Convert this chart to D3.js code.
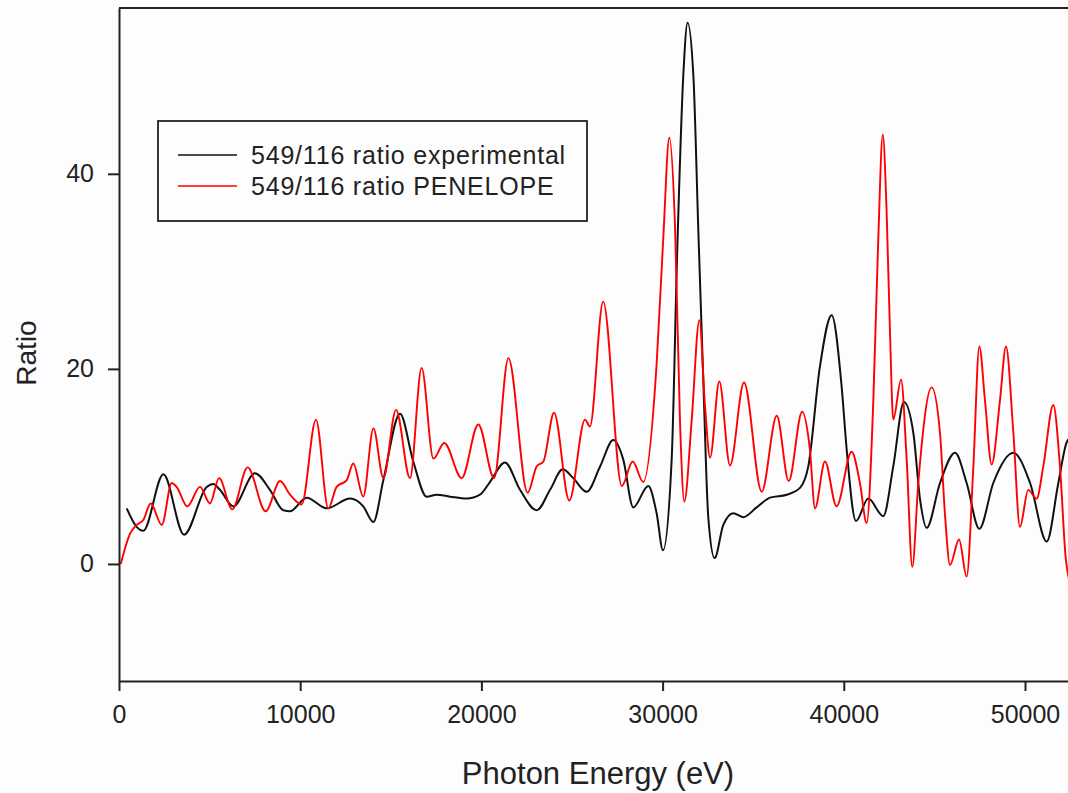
<!DOCTYPE html>
<html>
<head>
<meta charset="utf-8">
<script src="https://cdn.jsdelivr.net/npm/d3@7"></script>
<style>
  html, body { margin: 0; padding: 0; background: #fdfdfd; }
  svg { display: block; }
  text { font-family: "Liberation Sans", Arial, sans-serif; fill: #222; }
</style>
</head>
<body>
<svg id="chart" width="1068" height="793"></svg>
<script>
// Photon energy (eV) and 549/116 ratio, experimental measurement
const expEnergy = [425, 975, 1340, 2450, 3590, 4840, 5200, 5570, 6310, 7500, 8330, 9070, 9440,
  10360, 11460, 12750, 13480, 14040, 14590, 15510, 16240, 16980, 17530, 18270, 19190, 19920,
  20470, 21300, 22130, 23050, 23790, 24490, 25070, 25810, 26550, 27280, 27830, 28380, 29210,
  29670, 30020, 30500, 30810, 31140, 31380, 31700, 31970, 32250, 32520, 32870, 33350, 33900,
  34450, 35190, 35930, 36850, 37580, 38040, 38680, 39330, 39880, 40160, 40670, 41350, 42180,
  42730, 43320, 43840, 44210, 44570, 45310, 46140, 46780, 47480, 48250, 49360, 50280, 51200,
  51840, 52310, 52800];
const expRatio = [5.7, 3.8, 3.4, 9.2, 3.0, 7.9, 8.2, 7.6, 5.9, 9.3, 7.6, 5.5, 5.4,
  6.8, 5.7, 6.7, 5.9, 4.3, 8.6, 15.4, 10.5, 6.9, 7.1, 6.9, 6.7, 7.1,
  8.4, 10.4, 7.6, 5.5, 7.6, 9.7, 8.8, 7.4, 10.0, 12.7, 10.7, 5.8, 8.0,
  5.2, 1.4, 10.7, 32.3, 50.0, 55.5, 50.0, 34.3, 18.6, 4.8, 0.6, 4.0, 5.2,
  4.8, 5.8, 6.8, 7.1, 7.8, 10.0, 20.2, 25.5, 18.2, 11.7, 4.4, 6.7, 4.9,
  10.0, 16.6, 13.4, 6.6, 3.7, 8.3, 11.4, 8.3, 3.6, 8.3, 11.4, 8.3, 2.3,
  8.3, 12.5, 13.4];

// Photon energy (eV) and 549/116 ratio, PENELOPE simulation
const penEnergy = [100, 610, 975, 1340, 1750, 2360, 2910, 3180, 3770, 4470, 5020, 5520, 6250,
  7100, 8090, 8890, 9440, 10080, 10870, 11550, 12010, 12570, 12930, 13480, 14040, 14590,
  15290, 16060, 16700, 17350, 17950, 18910, 19830, 20700, 21490, 22550, 23050, 23420, 24010,
  24850, 25720, 25990, 26720, 27750, 28350, 28930, 29670, 30040, 30370, 30690, 30960, 31200,
  31600, 32030, 32340, 32620, 33130, 33720, 34490, 35470, 36300, 36960, 37700, 38130, 38410,
  38960, 39600, 40430, 40890, 41260, 41630, 41900, 42150, 42360, 42550, 42730, 43160, 43470,
  43780, 44110, 44850, 45310, 45590, 45860, 46360, 46780, 47150, 47480, 47790, 48160, 48620,
  48950, 49360, 49720, 50180, 50640, 51010, 51560, 51930, 52260, 52700];
const penRatio = [0.0, 3.1, 4.0, 4.5, 6.2, 4.0, 8.3, 7.9, 5.9, 7.9, 6.2, 8.8, 5.6,
  9.9, 5.4, 8.5, 7.1, 6.1, 14.8, 5.7, 7.9, 8.6, 10.3, 6.9, 13.9, 8.8,
  15.8, 8.8, 20.1, 10.8, 12.4, 8.8, 14.3, 8.8, 21.1, 7.3, 10.0, 10.5, 15.5,
  6.5, 14.8, 14.1, 26.9, 8.0, 10.5, 8.4, 20.5, 33.5, 43.7, 34.3, 14.6, 6.4,
  14.6, 25.0, 16.2, 10.9, 18.7, 10.1, 18.6, 7.4, 15.2, 8.5, 15.6, 11.7, 5.7,
  10.5, 5.9, 11.5, 8.3, 4.2, 16.8, 33.2, 44.0, 36.3, 23.7, 14.8, 18.9, 10.7,
  -0.3, 8.3, 18.1, 13.4, 4.9, -0.1, 2.5, -1.3, 10.0, 22.3, 16.8, 10.2, 16.8,
  22.3, 13.4, 3.8, 7.6, 6.7, 10.0, 16.3, 10.0, 0.4, -3.0];

const xTicks = [0, 10000, 20000, 30000, 40000, 50000];
const yTicks = [0, 20, 40];
const seriesNames = ["549/116 ratio experimental", "549/116 ratio PENELOPE"];
const seriesColors = ["#111111", "#ff0000"];

const svg = d3.select("#chart");

// Plot frame: left edge at 119px, one decade of 10000 eV spans ~181px
const x = d3.scaleLinear().domain([0, 55000]).range([119, 119 + 5.5 * 181.2]);
const y = d3.scaleLinear().domain([-12, 57]).range([681, 8]);

const axisColor = "#222";
const axisWidth = 2;

// Curves
const line = d3.line()
  .x(d => x(d[0]))
  .y(d => y(d[1]))
  .curve(d3.curveMonotoneX);

const expData = expEnergy.map((e, i) => [e, expRatio[i]]);
const penData = penEnergy.map((e, i) => [e, penRatio[i]]);

svg.append("defs").append("clipPath").attr("id", "plotClip")
  .append("rect").attr("x", 119).attr("y", 8).attr("width", 1000).attr("height", 673);

const plot = svg.append("g").attr("clip-path", "url(#plotClip)");
plot.append("path").datum(expData)
  .attr("d", line).attr("fill", "none")
  .attr("stroke", seriesColors[0]).attr("stroke-width", 2);
plot.append("path").datum(penData)
  .attr("d", line).attr("fill", "none")
  .attr("stroke", seriesColors[1]).attr("stroke-width", 1.9);

// Top border
svg.append("line")
  .attr("x1", 119).attr("x2", 1068).attr("y1", 8).attr("y2", 8)
  .attr("stroke", axisColor).attr("stroke-width", axisWidth);

// X axis
const xAxis = svg.append("g")
  .attr("transform", `translate(0,${y(-12)})`)
  .call(d3.axisBottom(x).tickValues(xTicks).tickSize(10).tickSizeOuter(0).tickPadding(14)
    .tickFormat(d3.format("d")));
xAxis.select(".domain").attr("stroke", axisColor).attr("stroke-width", axisWidth);
xAxis.selectAll(".tick line").attr("stroke", axisColor).attr("stroke-width", axisWidth);
xAxis.selectAll(".tick text")
  .style("font-family", "'Liberation Sans', Arial, sans-serif")
  .style("font-size", "25px").attr("fill", "#222");

// Y axis
const yAxis = svg.append("g")
  .attr("transform", `translate(119,0)`)
  .call(d3.axisLeft(y).tickValues(yTicks).tickSize(11).tickSizeOuter(0).tickPadding(14));
yAxis.select(".domain").attr("stroke", axisColor).attr("stroke-width", axisWidth);
yAxis.selectAll(".tick line").attr("stroke", axisColor).attr("stroke-width", axisWidth);
yAxis.selectAll(".tick text")
  .style("font-family", "'Liberation Sans', Arial, sans-serif")
  .style("font-size", "25px").attr("fill", "#222");

// Axis titles
svg.append("text")
  .attr("x", 598).attr("y", 784)
  .attr("text-anchor", "middle")
  .style("font-size", "31px")
  .text("Photon Energy (eV)");

svg.append("text")
  .attr("transform", "translate(36,353) rotate(-90)")
  .attr("text-anchor", "middle")
  .style("font-size", "28px")
  .text("Ratio");

// Legend
const legend = svg.append("g");
legend.append("rect")
  .attr("x", 158).attr("y", 121).attr("width", 429).attr("height", 100)
  .attr("fill", "#fdfdfd").attr("stroke", axisColor).attr("stroke-width", 1.8);
const rows = [155, 186];
seriesNames.forEach((name, i) => {
  legend.append("line")
    .attr("x1", 178).attr("x2", 237).attr("y1", rows[i]).attr("y2", rows[i])
    .attr("stroke", seriesColors[i]).attr("stroke-width", 1.7);
  legend.append("text")
    .attr("x", 251).attr("y", rows[i] + 9)
    .style("font-size", "25px")
    .style("letter-spacing", "0.8px")
    .text(name);
});
</script>
</body>
</html>
